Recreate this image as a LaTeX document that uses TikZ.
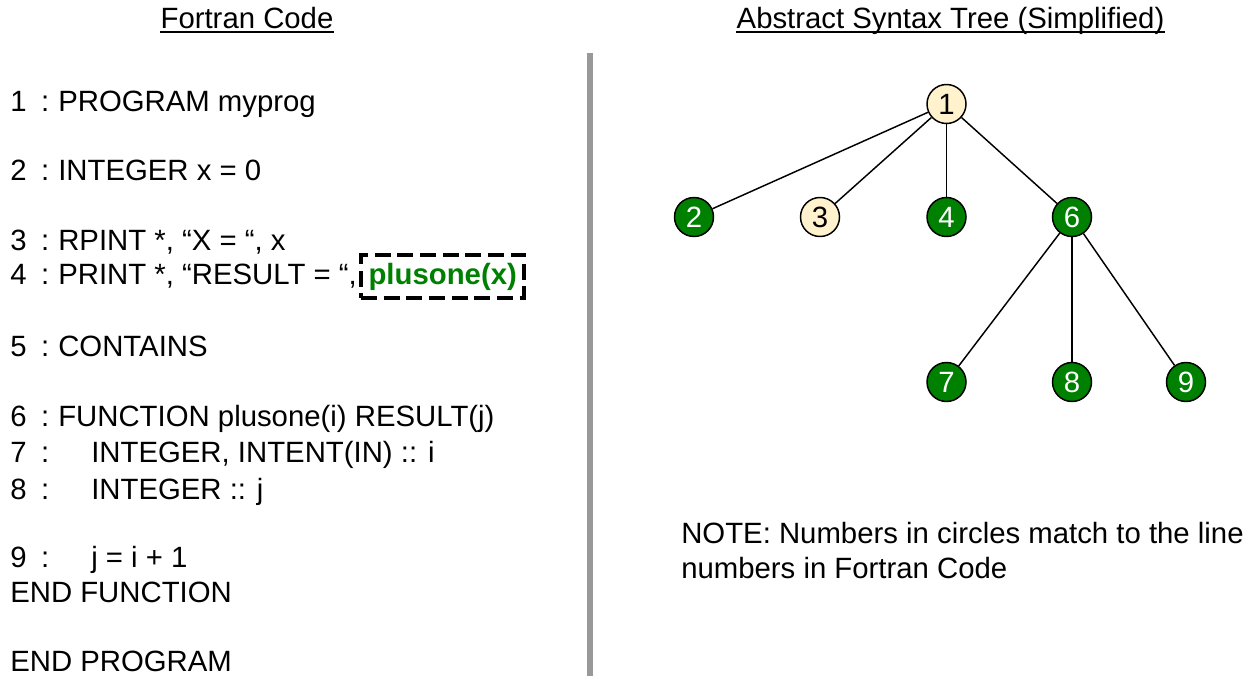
\documentclass[tikz,border=0pt]{standalone}
\usepackage{fontspec}
\setmainfont{Liberation Sans}
\usetikzlibrary{calc}
\definecolor{ngreen}{HTML}{008000}
\definecolor{ncream}{HTML}{FFF2CC}
\definecolor{divgray}{HTML}{999999}
\newcommand{\lnA}[1]{\makebox[23.25pt][l]{#1}\makebox[12.75pt][l]{:}}
\newcommand{\lnB}[1]{\makebox[23.25pt][l]{#1}\makebox[37.5pt][l]{:}}
\tikzset{
  txt/.style={inner sep=0pt, font=\fontsize{22}{26}\selectfont},
  code/.style={txt, anchor=base west},
  ttl/.style={txt, anchor=base},
  uline/.style={line width=1.5pt},
  tnode/.style={circle, draw=black, line width=1.1pt, minimum size=29.25pt, inner sep=0pt, font=\fontsize{22}{26}\selectfont},
  gnode/.style={tnode, fill=ngreen, text=white},
  cnode/.style={tnode, fill=ncream, text=black},
  edge/.style={line width=1.1pt, draw=black},
  pbox/.style={draw=black, line width=3pt, dash pattern=on 12pt off 5pt, inner xsep=5.6pt, inner ysep=0pt, minimum height=32.25pt, text=ngreen, font=\fontsize{22}{26}\selectfont\bfseries, anchor=base west},
  divider/.style={draw=divgray, line width=4.5pt}
}
\begin{document}
\begin{tikzpicture}[x=0.75pt,y=-0.75pt]
\useasboundingbox (0,0) rectangle (1251,676);
% titles
\node[ttl] (t1) at (247,28) {Fortran Code};
\draw[uline] ($(t1.base west)+(0,4)$) -- ($(t1.base east)+(0,4)$);
\node[ttl] (t2) at (950.5,28) {Abstract Syntax Tree (Simplified)};
\draw[uline] ($(t2.base west)+(0,4)$) -- ($(t2.base east)+(0,4)$);
% divider
\draw[divider] (590,53) -- (590,676);
% code
\node[code] (l1) at (10,111) {\lnA{1}PROGRAM myprog};
\node[code] (l2) at (10,180) {\lnA{2}INTEGER x = 0};
\node[code] (l3) at (10,250) {\lnA{3}RPINT *, “X = “, x};
\node[code] (l4) at (10,284) {\lnA{4}PRINT *, “RESULT = “,};
\node[pbox] (pb) at ($(l4.base east)+(2,0)$) {plusone(x)};
\node[code] (l5) at (10,356) {\lnA{5}CONTAINS};
\node[code] (l6) at (10,426) {\lnA{6}FUNCTION plusone(i) RESULT(j)};
\node[code] (l7) at (10,462) {\lnB{7}INTEGER, INTENT(IN) :: i};
\node[code] (l8) at (10,499) {\lnB{8}INTEGER :: j};
\node[code] (l9) at (10,567) {\lnB{9}j = i + 1};
\node[code] (l10) at (10,602) {END FUNCTION};
\node[code] (l11) at (10,671) {END PROGRAM};
% tree
\node[cnode] (n1) at (946.5,104) {1};
\node[gnode] (n2) at (694,217) {2};
\node[cnode] (n3) at (820,217) {3};
\node[gnode] (n4) at (946.5,217) {4};
\node[gnode] (n6) at (1072,217) {6};
\node[gnode] (n7) at (946.5,382) {7};
\node[gnode] (n8) at (1072,382) {8};
\node[gnode] (n9) at (1186,382) {9};
\draw[edge] (n1) -- (n2);
\draw[edge] (n1) -- (n3);
\draw[edge] (n1) -- (n4);
\draw[edge] (n1) -- (n6);
\draw[edge] (n6) -- (n7);
\draw[edge] (n6) -- (n8);
\draw[edge] (n6) -- (n9);
% note
\node[code] (note1) at (681,543) {NOTE: Numbers in circles match to the line};
\node[code] (note2) at (681,578) {numbers in Fortran Code};
\end{tikzpicture}
\end{document}
